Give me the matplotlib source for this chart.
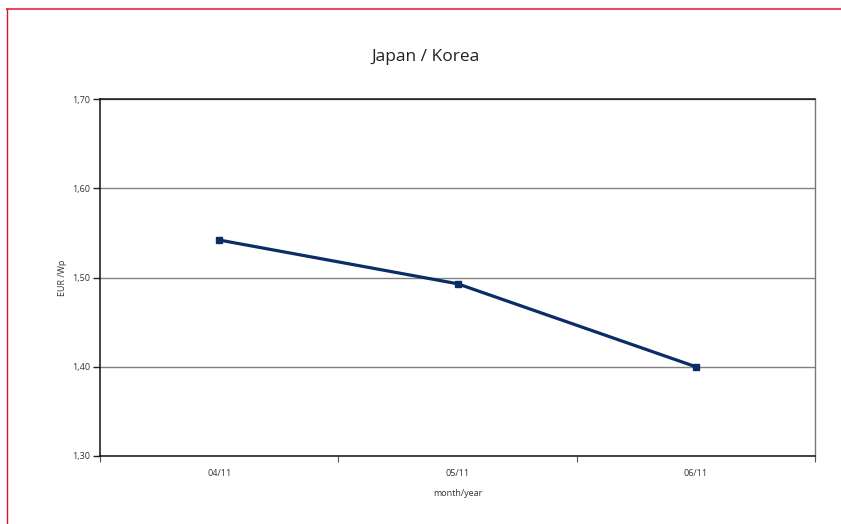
import matplotlib
matplotlib.use("Agg")
import matplotlib.pyplot as plt
from matplotlib.lines import Line2D

plt.rcParams['font.family'] = ['Open Sans', 'DejaVu Sans']

# Monthly module prices, Japan / Korea
months = ["04/11", "05/11", "06/11"]
price_eur_wp = [1.542, 1.493, 1.400]
y_ticks = [1.30, 1.40, 1.50, 1.60, 1.70]
y_tick_labels = ["1,30", "1,40", "1,50", "1,60", "1,70"]

fig = plt.figure(figsize=(8.41, 5.24), dpi=100)
fig.patch.set_facecolor("white")

ax = fig.add_axes([100 / 841, (524 - 456) / 524, 715 / 841, 357 / 524])

x = list(range(len(months)))
ax.plot(x, price_eur_wp, color="#0b2d66", linewidth=2.3, marker="s",
        markersize=5, markerfacecolor="#0b2d66", markeredgecolor="#0b2d66",
        zorder=3)

ax.set_xlim(-0.5, len(months) - 0.5)
ax.set_ylim(y_ticks[0], y_ticks[-1])

ax.set_yticks(y_ticks)
ax.set_yticklabels(y_tick_labels, fontsize=6.5, color="#333333")
ax.set_xticks(x)
ax.set_xticklabels(months, fontsize=6.5, color="#333333")
ax.set_xticks([i - 0.5 for i in range(len(months) + 1)], minor=True)
ax.tick_params(axis="x", which="major", length=0, pad=9)
ax.tick_params(axis="x", which="minor", length=4, width=0.8, color="#555555")
ax.tick_params(axis="y", which="major", length=5, width=1, color="#222222", pad=2)

ax.yaxis.grid(True, color="#808080", linewidth=1.0)
ax.set_axisbelow(True)

for side in ["left", "bottom", "top"]:
    ax.spines[side].set_color("#111111")
    ax.spines[side].set_linewidth(1.1)
ax.spines["right"].set_color("#777777")
ax.spines["right"].set_linewidth(1.0)

ax.set_ylabel("EUR /Wp", fontsize=6.5, color="#333333", labelpad=4)
ax.set_xlabel("month/year", fontsize=6.5, color="#333333", labelpad=8)

fig.text(426 / 841, 1 - 57 / 524, "Japan / Korea", fontsize=12.5,
         color="#222222", ha="center", va="center")

# Page frame lines
fig.add_artist(Line2D([7 / 841, 1.0], [1 - 8.5 / 524, 1 - 8.5 / 524],
                      color="#e84a5f", linewidth=1.5))
fig.add_artist(Line2D([7 / 841, 7 / 841], [0.0, 1 - 8.5 / 524],
                      color="#d0192b", linewidth=1.0))

fig.savefig("out.png", dpi=100, facecolor="white")
